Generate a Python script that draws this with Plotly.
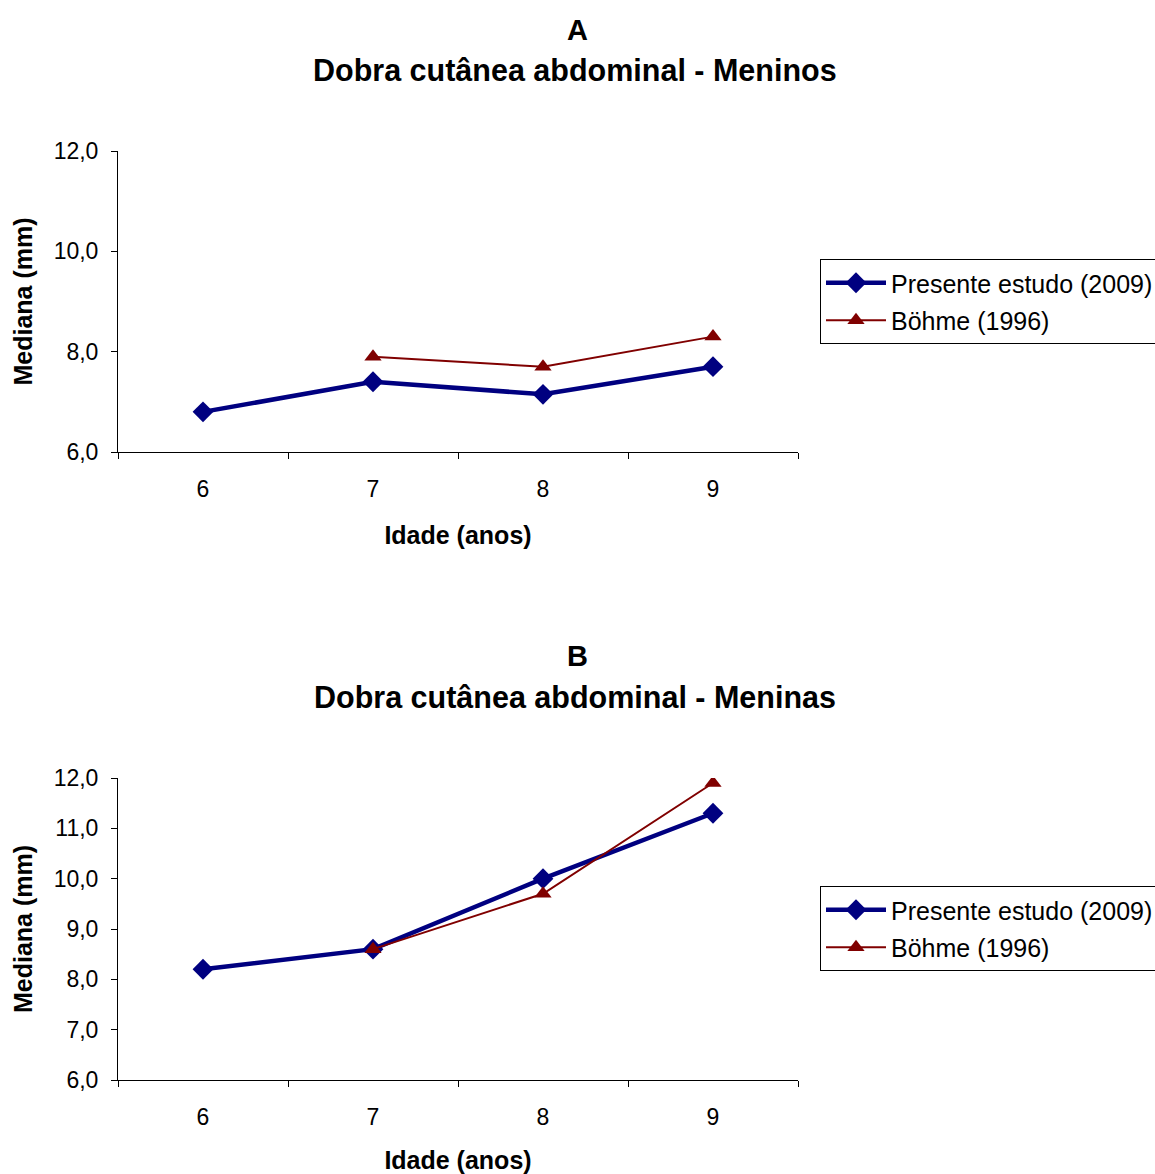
import plotly.graph_objects as go

# ---- data ----
ages = ["6", "7", "8", "9"]
bohme_ages = ["7", "8", "9"]

meninos_presente = [6.8, 7.4, 7.15, 7.7]
meninos_bohme = [7.9, 7.7, 8.3]

meninas_presente = [8.2, 8.6, 10.0, 11.3]
meninas_bohme = [8.6, 9.7, 11.9]

series_names = ["Presente estudo (2009)", "Böhme (1996)"]
panel_letters = ["A", "B"]
panel_titles = ["Dobra cutânea abdominal - Meninos", "Dobra cutânea abdominal - Meninas"]
x_title = "Idade (anos)"
y_title = "Mediana (mm)"

W, H = 1155, 1174
FONT = "Liberation Sans, Arial, sans-serif"
BLUE = "#000080"
RED = "#800000"


def px(x):
    return x / W


def py(y):
    return 1 - y / H


fig = go.Figure()

panels = [
    dict(pres=meninos_presente, boh=meninos_bohme, xa="x", ya="y", legend="legend",
         top=151, bottom=452, dtick=2, title_y=(30, 70), leg_top=259),
    dict(pres=meninas_presente, boh=meninas_bohme, xa="x2", ya="y2", legend="legend2",
         top=778, bottom=1080, dtick=1, title_y=(656, 697), leg_top=886),
]

annotations = []
for i, p in enumerate(panels):
    fig.add_trace(go.Scatter(
        x=ages, y=p["pres"], name=series_names[0], mode="lines+markers",
        line=dict(color=BLUE, width=4.5),
        marker=dict(symbol="diamond", size=16, color=BLUE),
        xaxis=p["xa"], yaxis=p["ya"], legend=p["legend"], legendgroup="p%d" % i,
    ))
    fig.add_trace(go.Scatter(
        x=bohme_ages, y=p["boh"], name=series_names[1], mode="lines+markers",
        line=dict(color=RED, width=2),
        marker=dict(symbol="triangle-up", size=15, color=RED),
        xaxis=p["xa"], yaxis=p["ya"], legend=p["legend"], legendgroup="b%d" % i,
    ))
    annotations.append(dict(text="<b>" + panel_letters[i] + "</b>", x=px(577), y=py(p["title_y"][0]),
                            xref="paper", yref="paper", showarrow=False,
                            xanchor="center", yanchor="middle",
                            font=dict(size=29, family=FONT, color="black")))
    annotations.append(dict(text="<b>" + panel_titles[i] + "</b>", x=px(575), y=py(p["title_y"][1]),
                            xref="paper", yref="paper", showarrow=False,
                            xanchor="center", yanchor="middle",
                            font=dict(size=30.5, family=FONT, color="black")))

axis_common_x = dict(
    type="category", categoryorder="array", categoryarray=ages,
    range=[-0.5, 3.5], tickson="boundaries", ticks="outside", ticklen=6,
    tickcolor="black", showline=True, linecolor="black", linewidth=1,
    showgrid=False, zeroline=False, ticklabelstandoff=16,
    tickfont=dict(size=23, family=FONT, color="black"),
    domain=[px(118), px(798)],
    title=dict(text="<b>" + x_title + "</b>", font=dict(size=25, family=FONT, color="black"), standoff=25),
)
axis_common_y = dict(
    ticks="outside", ticklen=6, tickcolor="black", showline=True, linecolor="black",
    linewidth=1, showgrid=False, zeroline=False, tickformat=".1f",
    ticklabelstandoff=8,
    tickfont=dict(size=23, family=FONT, color="black"),
    title=dict(text="<b>" + y_title + "</b>", font=dict(size=25, family=FONT, color="black"), standoff=13),
)

legend_common = dict(
    x=px(820), xanchor="left", yanchor="top",
    bordercolor="black", borderwidth=1, bgcolor="white",
    font=dict(size=25, family=FONT, color="black"), itemwidth=60,
    traceorder="grouped", tracegroupgap=2,
)

fig.update_layout(
    xaxis=dict(axis_common_x, anchor="y"),
    yaxis=dict(axis_common_y, anchor="x", range=[6, 12], dtick=2,
               domain=[py(panels[0]["bottom"]), py(panels[0]["top"])]),
    xaxis2=dict(axis_common_x, anchor="y2"),
    yaxis2=dict(axis_common_y, anchor="x2", range=[6, 12], dtick=1,
                domain=[py(panels[1]["bottom"]), py(panels[1]["top"])]),
    legend=dict(legend_common, y=py(panels[0]["leg_top"])),
    legend2=dict(legend_common, y=py(panels[1]["leg_top"])),
    annotations=annotations,
    width=W, height=H,
    margin=dict(l=0, r=0, t=0, b=0, autoexpand=False),
    paper_bgcolor="white", plot_bgcolor="white",
    separators=",.",
    font=dict(family=FONT, color="black"),
    showlegend=True,
)

fig.write_html(
    "out.html",
    config={"displayModeBar": False},
    post_script="document.body.style.margin='0px';document.body.style.overflow='hidden';",
)
